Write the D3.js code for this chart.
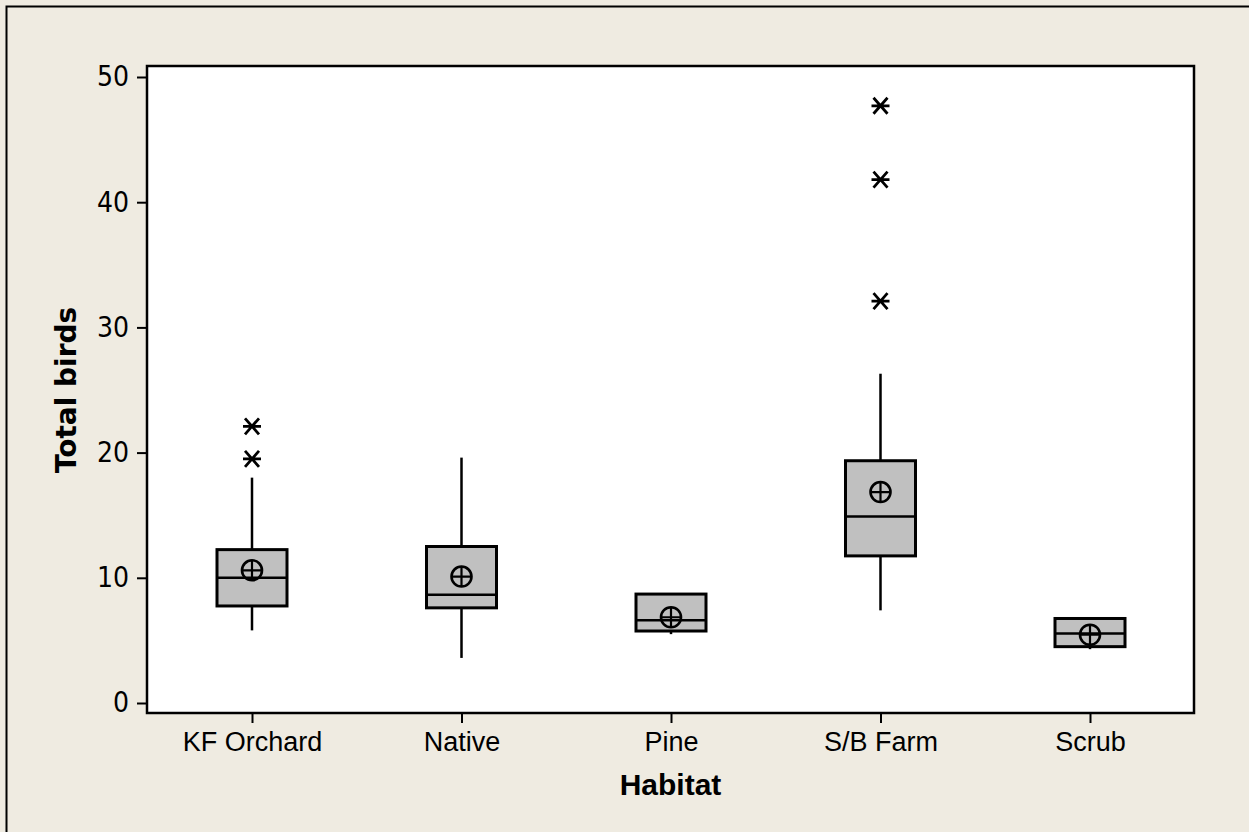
<!DOCTYPE html>
<html>
<head>
<meta charset="utf-8">
<script src="https://cdn.jsdelivr.net/npm/d3@7"></script>
<style>
  body { margin: 0; background: #efebe1; }
  svg { display: block; }
</style>
</head>
<body>
<svg width="1249" height="832"></svg>
<script>
// habitat boxplot
const categories = ["KF Orchard", "Native", "Pine", "S/B Farm", "Scrub"];
const whiskerLow = [5.8, 3.6, 5.5, 7.4, 4.3];
const q1 = [7.75, 7.6, 5.75, 11.75, 4.5];
const median = [10, 8.65, 6.6, 14.9, 5.55];
const q3 = [12.25, 12.5, 8.7, 19.35, 6.75];
const whiskerHigh = [18, 19.6, 8.7, 26.3, 6.8];
const means = [10.6, 10.1, 6.85, 16.85, 5.45];
const outliers = [[22.1, 19.5], [], [], [47.7, 41.8, 32.1], []];
const yTicks = [0, 10, 20, 30, 40, 50];

const svg = d3.select("svg");
const width = +svg.attr("width"), height = +svg.attr("height");

// plot area edges
const plot = { left: 147, right: 1194, top: 66, bottom: 713 };

// background + frame (frame runs off the bottom/right like the original)
svg.append("rect")
    .attr("width", width).attr("height", height)
    .attr("fill", "#efebe1");
svg.append("rect")
    .attr("x", 6.5).attr("y", 6.5)
    .attr("width", width + 20).attr("height", height + 20)
    .attr("fill", "none").attr("stroke", "#000").attr("stroke-width", 2);

svg.append("rect")
    .attr("x", plot.left).attr("y", plot.top)
    .attr("width", plot.right - plot.left).attr("height", plot.bottom - plot.top)
    .attr("fill", "#fff");

const y = d3.scaleLinear().domain([0, 50]).range([703, 77]);
const x = d3.scalePoint().domain(categories).range([252, 1090]);

const boxW = 70;

let rows = categories.map((c, i) => ({
    cat: c, lo: whiskerLow[i], q1: q1[i], med: median[i],
    q3: q3[i], hi: whiskerHigh[i], mean: means[i], out: outliers[i]
}));

const g = svg.append("g");

// whiskers
g.selectAll("line.whisker-hi")
    .data(rows).enter().append("line")
    .attr("class", "whisker-hi")
    .attr("x1", d => x(d.cat)).attr("x2", d => x(d.cat))
    .attr("y1", d => y(d.q3)).attr("y2", d => y(d.hi))
    .attr("stroke", "#000").attr("stroke-width", 2.5);

g.selectAll("line.whisker-lo")
    .data(rows).enter().append("line")
    .attr("class", "whisker-lo")
    .attr("x1", d => x(d.cat)).attr("x2", d => x(d.cat))
    .attr("y1", d => y(d.q1)).attr("y2", d => y(d.lo))
    .attr("stroke", "#000").attr("stroke-width", 2.5);

// boxes
g.selectAll("rect.box")
    .data(rows).enter().append("rect")
    .attr("class", "box")
    .attr("x", d => x(d.cat) - boxW / 2)
    .attr("y", d => y(d.q3))
    .attr("width", boxW)
    .attr("height", d => y(d.q1) - y(d.q3))
    .attr("fill", "#c0c0c0")
    .attr("stroke", "#000").attr("stroke-width", 3);

// medians
g.selectAll("line.median")
    .data(rows).enter().append("line")
    .attr("class", "median")
    .attr("x1", d => x(d.cat) - boxW / 2).attr("x2", d => x(d.cat) + boxW / 2)
    .attr("y1", d => y(d.med)).attr("y2", d => y(d.med))
    .attr("stroke", "#000").attr("stroke-width", 2.5);

// mean symbol: circle with cross
const meanG = g.selectAll("g.mean")
    .data(rows).enter().append("g")
    .attr("class", "mean")
    .attr("transform", d => `translate(${x(d.cat)},${y(d.mean)})`);
meanG.append("circle")
    .attr("r", 10)
    .attr("fill", "none").attr("stroke", "#000").attr("stroke-width", 2.6);
meanG.append("path")
    .attr("d", "M -10 0 H 10 M 0 -10 V 10")
    .attr("stroke", "#000").attr("stroke-width", 2.2);

// outliers as asterisks
let outPts = [];
rows.forEach(d => d.out.forEach(v => outPts.push({ cat: d.cat, v: v })));
g.selectAll("path.outlier")
    .data(outPts).enter().append("path")
    .attr("class", "outlier")
    .attr("transform", d => `translate(${x(d.cat)},${y(d.v)})`)
    .attr("d", "M -9 0 H 9 M -7 -8 L 7 8 M 7 -8 L -7 8")
    .attr("fill", "none")
    .attr("stroke", "#000").attr("stroke-width", 2.8);

// plot frame on top
svg.append("rect")
    .attr("x", plot.left).attr("y", plot.top)
    .attr("width", plot.right - plot.left).attr("height", plot.bottom - plot.top)
    .attr("fill", "none").attr("stroke", "#000").attr("stroke-width", 2.5);

// axes
const yAxis = svg.append("g")
    .attr("transform", `translate(${plot.left},0)`)
    .call(d3.axisLeft(y).tickValues(yTicks).tickSize(10).tickPadding(8));
yAxis.select(".domain").remove();
yAxis.selectAll("line").attr("stroke", "#000").attr("stroke-width", 2);
yAxis.selectAll("text")
    .attr("fill", "#000")
    .style("font-family", "'DejaVu Sans Condensed', 'DejaVu Sans', sans-serif")
    .style("font-size", "28px");

const xAxis = svg.append("g")
    .attr("transform", `translate(0,${plot.bottom})`)
    .call(d3.axisBottom(x).tickSize(10).tickPadding(9));
xAxis.select(".domain").remove();
xAxis.selectAll("line").attr("stroke", "#000").attr("stroke-width", 2);
xAxis.selectAll("text")
    .attr("fill", "#000")
    .style("font-family", "'Liberation Sans', Arial, sans-serif")
    .style("font-size", "27px");

// axis titles
svg.append("text")
    .attr("x", (plot.left + plot.right) / 2)
    .attr("y", 795)
    .attr("text-anchor", "middle")
    .style("font-family", "'Liberation Sans', Arial, sans-serif")
    .style("font-weight", "bold")
    .style("font-size", "30px")
    .text("Habitat");

svg.append("text")
    .attr("transform", "translate(76,390) rotate(-90)")
    .attr("text-anchor", "middle")
    .style("font-family", "'DejaVu Sans', sans-serif")
    .style("font-weight", "bold")
    .style("font-size", "28px")
    .text("Total birds");
</script>
</body>
</html>
